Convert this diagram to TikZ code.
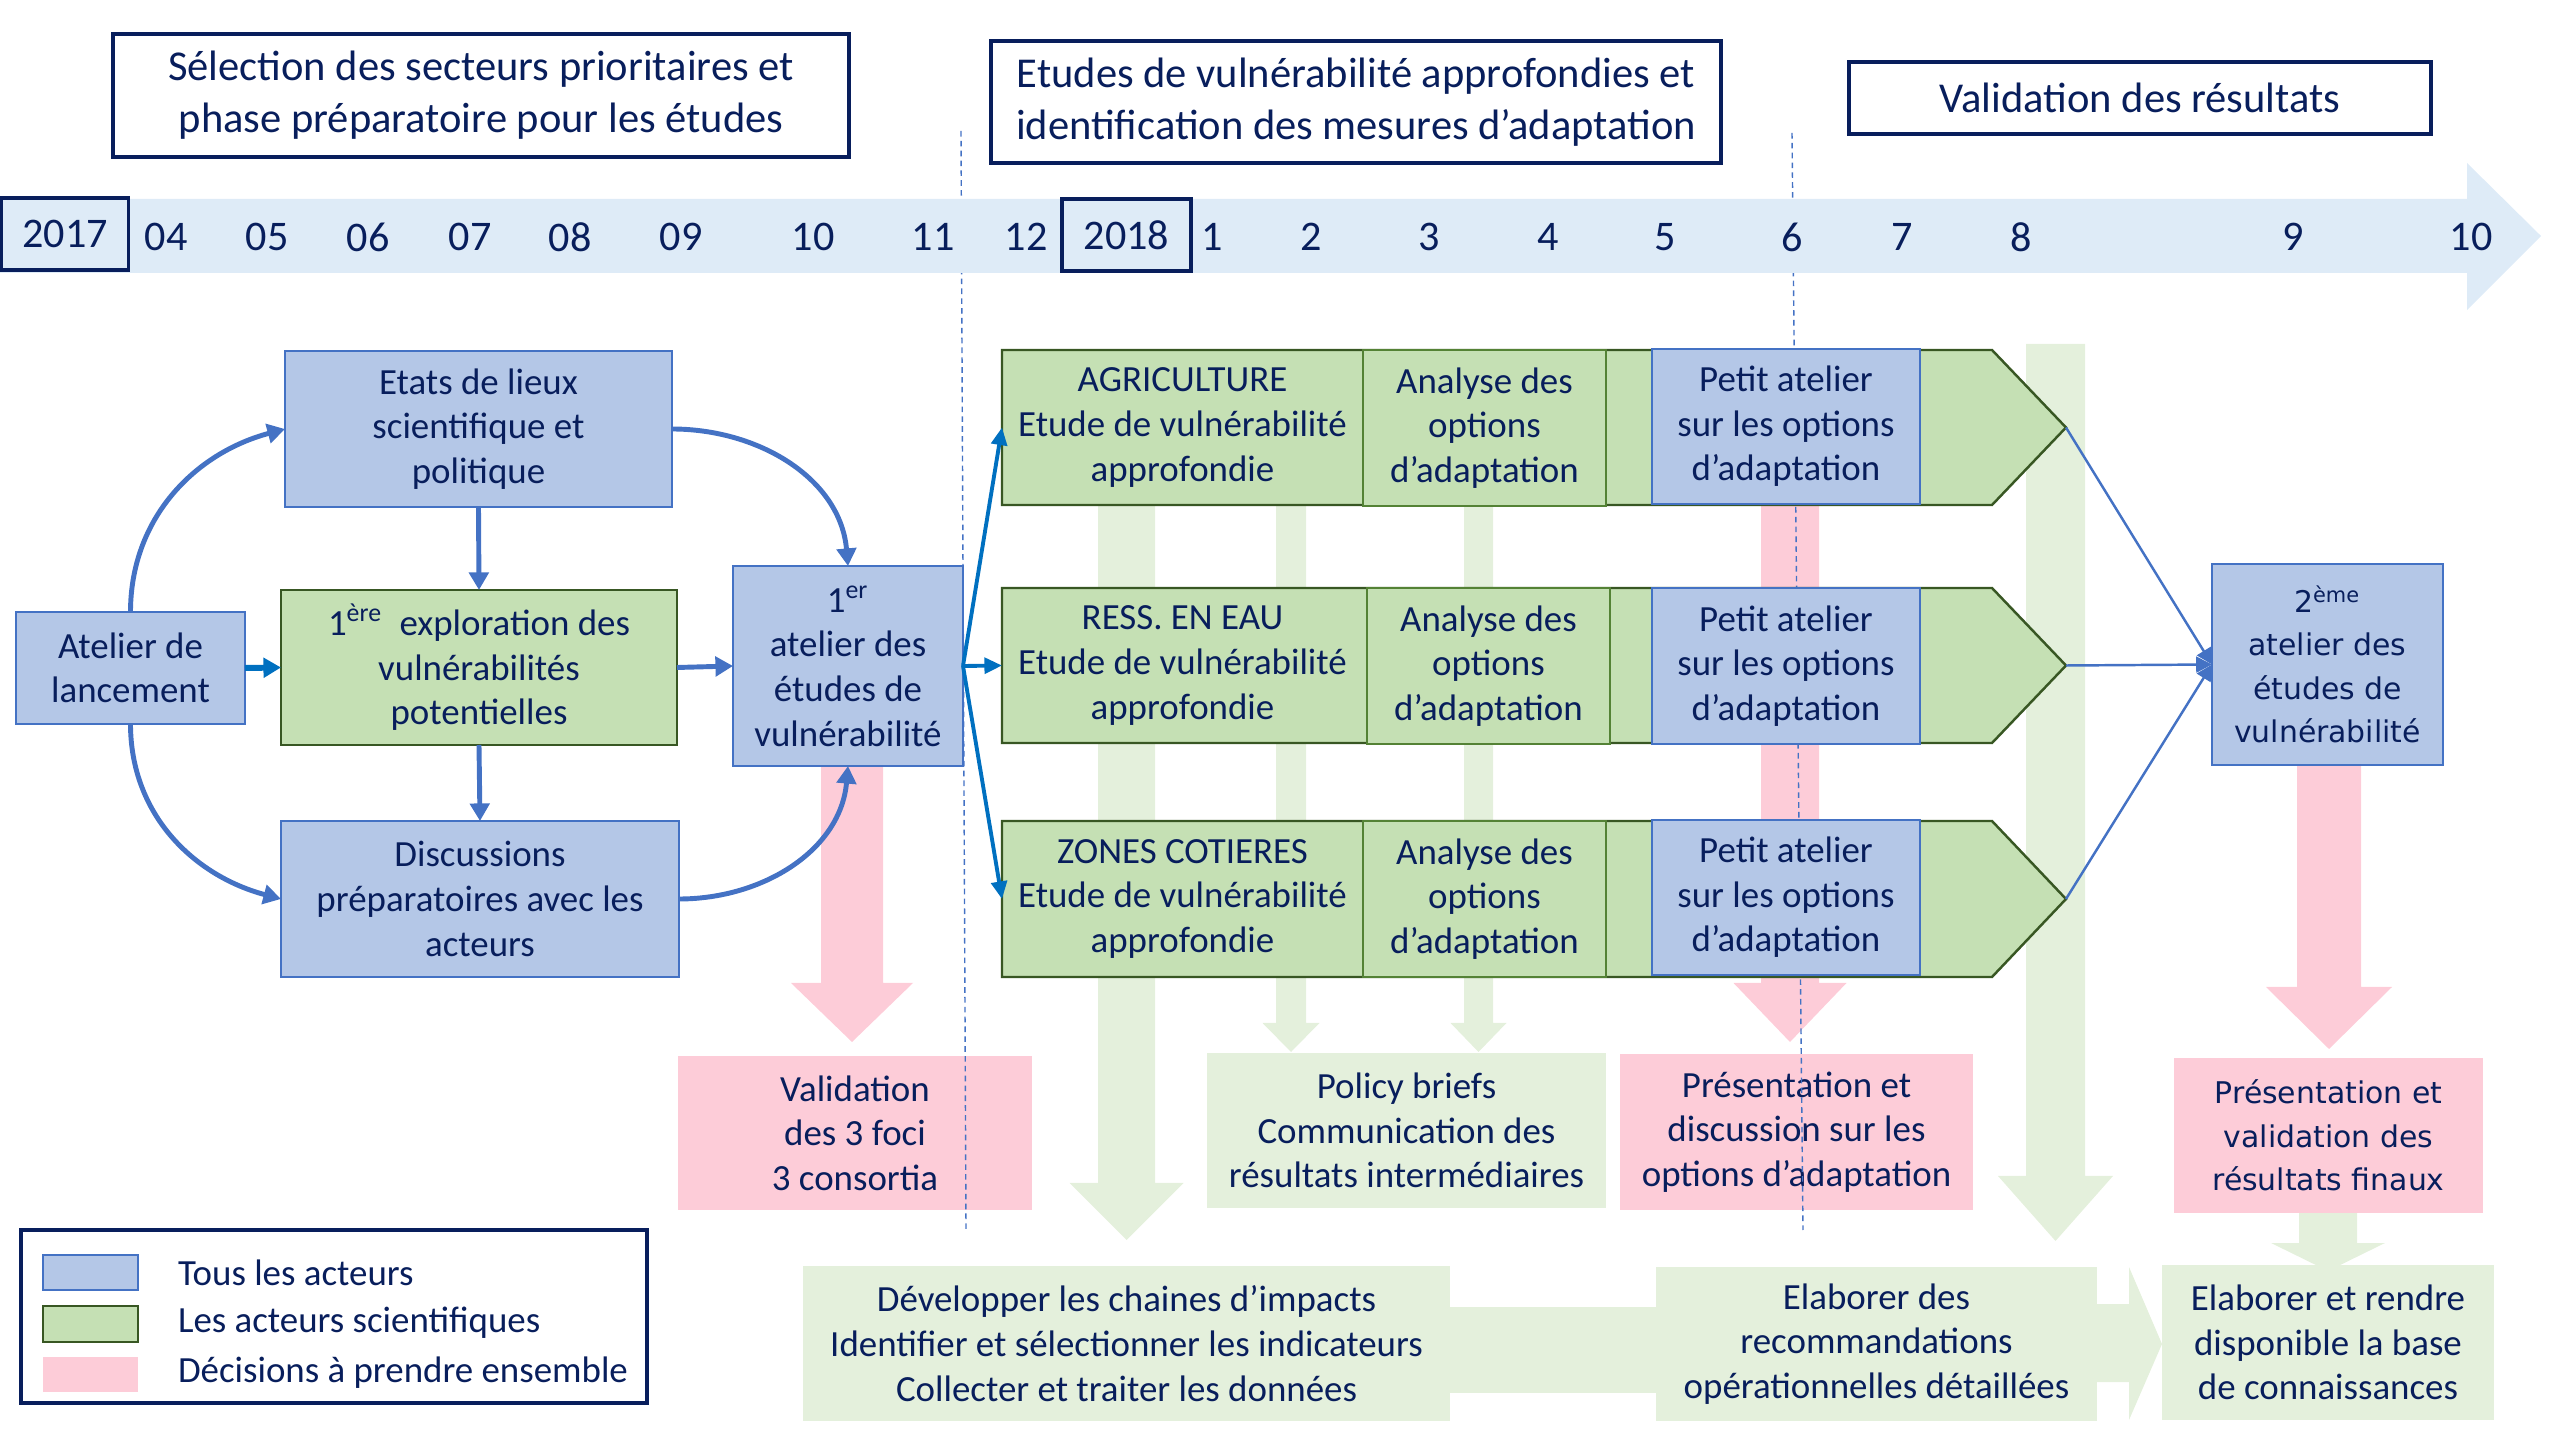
\documentclass[tikz,border=0pt]{standalone}
\usepackage{fontspec}
\setmainfont{Carlito}
\newfontfamily\verdfont{DejaVu Sans}
\usetikzlibrary{arrows.meta}

\definecolor{navy}{RGB}{8,30,92}
\definecolor{bluefill}{HTML}{B4C7E7}
\definecolor{blueline}{HTML}{4472C4}
\definecolor{greenfill}{HTML}{C5E0B4}
\definecolor{greenline}{HTML}{385723}
\definecolor{anagreen}{HTML}{548235}
\definecolor{paleg}{HTML}{E4F0DC}
\definecolor{pinkfill}{HTML}{FDCCD8}
\definecolor{band}{HTML}{DEEBF7}
\definecolor{darkblue}{HTML}{0070C0}

% block arrow pointing down: [colour]{x}{top}{head}{tip}{half shaft}{half head}
\newcommand{\bigdown}[7][paleg]{%
  \fill[#1] (#2-#6,-#3) -- (#2+#6,-#3) -- (#2+#6,-#4) -- (#2+#7,-#4)
    -- (#2,-#5) -- (#2-#7,-#4) -- (#2-#6,-#4) -- cycle;}

\begin{document}
\begin{tikzpicture}
[x=0.1mm,y=0.1mm,%
  every node/.style={text=navy,inner sep=0pt,outer sep=0pt,align=center,
    font=\fontsize{10.5}{12.7}\selectfont},%
  wh/.style 2 args={minimum width=#1*0.1mm,minimum height=#2*0.1mm},%
  allbox/.style={draw=blueline,fill=bluefill,line width=0.6pt},%
  scibox/.style={draw=greenline,fill=greenfill,line width=0.6pt},%
  anabox/.style={draw=anagreen,fill=greenfill,line width=0.6pt},%
  decbox/.style={fill=pinkfill},%
  palebox/.style={fill=paleg},%
  verd/.style={font=\verdfont\fontsize{8.5}{12.4}\selectfont},%
  phasebox/.style={draw=navy,line width=0.9pt,fill=white,font=\fontsize{12.1}{14.8}\selectfont},%
  yearbox/.style={draw=navy,line width=0.9pt,fill=band,font=\fontsize{12}{14}\selectfont},%
  month/.style={font=\fontsize{12}{14}\selectfont},%
  chev/.style={draw=greenline,fill=greenfill,line width=0.7pt},%
  sep/.style={draw=blueline,line width=0.4pt,dash pattern=on 1.6pt off 1.2pt},%
  flow/.style={draw=blueline,line width=1.4pt,-{Triangle[length=5pt,width=5.5pt]}},%
  fan/.style={draw=darkblue,line width=1.1pt,-{Triangle[length=5pt,width=4.5pt]}},%
  merge/.style={draw=blueline,line width=0.7pt,-{Triangle[length=4.5pt,width=4.5pt]}}]
\useasboundingbox (0,0) rectangle (2560,-1440);

% columns behind the boxes
\bigdown{1126.5}{400}{1183}{1240}{28.5}{57}
\bigdown{1291}{400}{1023}{1052}{15}{28.5}
\bigdown{1478.5}{400}{1023}{1052}{14.5}{28}
\bigdown[pinkfill]{1790}{450}{983}{1042}{29}{56.5}
\bigdown{2055.5}{344}{1176}{1241}{29.5}{57.5}
\bigdown[pinkfill]{852}{700}{983}{1042}{31}{61}
\bigdown[pinkfill]{2329}{700}{987}{1049}{32}{63}
\bigdown{2328}{1200}{1243}{1271}{29}{57}
\fill[paleg] (1440,-1307) rectangle (1666,-1393);
\fill[paleg] (2090,-1304) -- (2129,-1304) -- (2129,-1267) -- (2162,-1344)
  -- (2129,-1420) -- (2129,-1382) -- (2090,-1382) -- cycle;

% results
\node[decbox,wh={354}{154}] (valid) at (855,-1133) {Validation\\des 3 foci\\3 consortia};
\node[palebox,wh={399}{155}] (policy) at (1406.5,-1130.5)
  {Policy briefs\\Communication des\\résultats intermédiaires};
\node[decbox,wh={353}{156}] (presA) at (1796.5,-1132)
  {Présentation et\\discussion sur les\\options d’adaptation};
\node[decbox,verd,wh={309}{155}] (presB) at (2328.5,-1135.5)
  {Présentation et\\validation des\\résultats finaux};
\node[palebox,wh={647}{155}] (dev) at (1126.5,-1343.5)
  {Développer les chaines d’impacts\\Identifier et sélectionner les indicateurs\\Collecter et traiter les données};
\node[palebox,wh={441}{154}] (recom) at (1876.5,-1344)
  {Elaborer des\\recommandations\\opérationnelles détaillées};
\node[palebox,wh={332}{155}] (base) at (2328,-1342.5)
  {Elaborer et rendre\\disponible la base\\de connaissances};

% phase limits
\draw[sep] (961,-131) -- (966,-1230);
\draw[sep] (1792,-133) -- (1803,-1230);

% time line
\fill[band] (0,-199) -- (2467,-199) -- (2467,-163) -- (2541,-236)
  -- (2467,-310) -- (2467,-273) -- (0,-273) -- cycle;
\node[yearbox,wh={127}{72}] (y2017) at (65,-234) {2017};
\node[yearbox,wh={129}{72}] (y2018) at (1126.5,-235) {2018};
\foreach \m/\x [count=\i] in {04/166,05/267,06/368,07/470,08/570,09/681,10/813,
  11/933,12/1026,1/1212,2/1311,3/1429,4/1548,5/1665,6/1792,7/1902,8/2021,9/2293,10/2471}
  \node[month] (mon\i) at (\x,-237) {\m};

\node[phasebox,wh={736}{123}] (phaseA) at (481,-95.5)
  {Sélection des secteurs prioritaires et\\phase préparatoire pour les études};
\node[phasebox,wh={730}{122}] (phaseB) at (1356,-102)
  {Etudes de vulnérabilité approfondies et\\identification des mesures d’adaptation};
\node[phasebox,wh={582}{72}] (phaseC) at (2140,-98) {Validation des résultats};

% preparatory phase
\node[allbox,wh={229}{112}] (lanc) at (130.5,-668) {Atelier de\\lancement};
\node[allbox,wh={387}{156}] (etats) at (478.5,-429) {Etats de lieux\\scientifique et\\politique};
\node[scibox,wh={396}{155}] (explo) at (479,-667.5)
  {1\textsuperscript{ère}\ \ exploration des\\vulnérabilités\\potentielles};
\node[allbox,wh={398}{156}] (discu) at (480,-899) {Discussions\\préparatoires avec les\\acteurs};
\node[allbox,wh={230}{200}] (atel1) at (848,-666)
  {1\textsuperscript{er}\\atelier des\\études de\\vulnérabilité};

\draw[flow] (lanc.north) to[out=90,in=195] (etats.west);
\draw[flow] (lanc.south) to[out=-90,in=165] (discu.west);
\draw[flow,draw=darkblue,line width=1.7pt] (lanc.east) -- (explo.west);
\draw[flow] (etats.south) -- (explo.north);
\draw[flow] (explo.south) -- (discu.north);
\draw[flow] (explo.east) -- (atel1.west);
\draw[flow] (etats.east) to[out=0,in=95] (atel1.north);
\draw[flow] (discu.east) to[out=0,in=-95] (atel1.south);

% three studies
\foreach \t/\b/\i in {350/505/1,588/743/2,821/977/3}{
  \draw[chev] (1002,-\t) -- (1992,-\t) -- (2066,{-(\t+\b)/2}) -- (1992,-\b)
    -- (1002,-\b) -- cycle;
  \coordinate (tip\i) at (2066,{-(\t+\b)/2});
}
\node[wh={361}{155}] (agri) at (1182.5,-427.5) {AGRICULTURE\\Etude de vulnérabilité\\approfondie};
\node[wh={361}{155}] (eau) at (1182.5,-665.5) {RESS. EN EAU\\Etude de vulnérabilité\\approfondie};
\node[wh={361}{156}] (cote) at (1182.5,-899) {ZONES COTIERES\\Etude de vulnérabilité\\approfondie};
\node[anabox,wh={243}{156}] (ana1) at (1484.5,-428) {Analyse des\\options\\d’adaptation};
\node[anabox,wh={243}{156}] (ana2) at (1488.5,-666) {Analyse des\\options\\d’adaptation};
\node[anabox,wh={243}{156}] (ana3) at (1484.5,-899) {Analyse des\\options\\d’adaptation};
\node[allbox,wh={268}{155}] (pet1) at (1786,-426.5) {Petit atelier\\sur les options\\d’adaptation};
\node[allbox,wh={268}{156}] (pet2) at (1786,-666) {Petit atelier\\sur les options\\d’adaptation};
\node[allbox,wh={268}{155}] (pet3) at (1786,-897.5) {Petit atelier\\sur les options\\d’adaptation};

\draw[fan] (atel1.east) -- (agri.west);
\draw[fan] (atel1.east) -- (eau.west);
\draw[fan] (atel1.east) -- (cote.west);

% final workshop
\node[allbox,verd,wh={231}{201}] (atel2) at (2327.5,-664.5)
  {2\textsuperscript{ème}\\atelier des\\études de\\vulnérabilité};
\draw[merge] (tip1) -- (atel2.west);
\draw[merge] (tip2) -- (atel2.west);
\draw[merge] (tip3) -- (atel2.west);

% legend
\node[draw=navy,line width=0.9pt,wh={626}{173}] (legend) at (334,-1316.5) {};
\node[allbox,wh={95}{35}] (keyA) at (90.5,-1272.5) {};
\node[scibox,wh={95}{36}] (keyB) at (90.5,-1324) {};
\node[decbox,wh={95}{35}] (keyC) at (90.5,-1374.5) {};
\node[anchor=west] (txtA) at (178,-1273) {Tous les acteurs};
\node[anchor=west] (txtB) at (178,-1323) {Les acteurs scientifiques};
\node[anchor=west] (txtC) at (178,-1373) {Décisions à prendre ensemble};
\end{tikzpicture}
\end{document}
